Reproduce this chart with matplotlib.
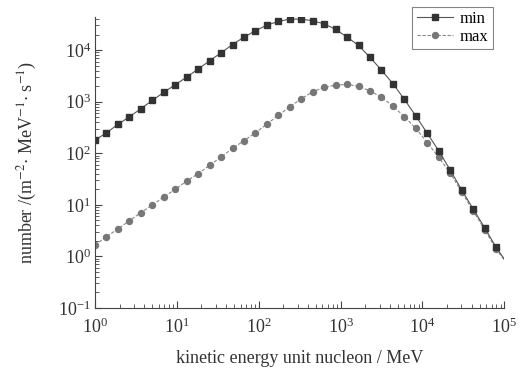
import numpy as np
import matplotlib.pyplot as plt

# === 数据 ===
# 能量点: 10^(0.14k), k=0..35, 最后补一个 1e5 只画线
energy = [10 ** (0.14 * k) for k in range(36)] + [1e5]

flux_min = [180, 249, 363, 510, 728, 1060, 1514, 2127, 2999, 4285, 6205, 8870,
            12790, 17860, 23660, 30500, 35980, 39900, 39900, 36980, 32340, 25180, 17860, 12330,
            7215, 4096, 2223, 1109, 526, 243, 111,
            47.2, 19.4, 8.3, 3.60, 1.50, 0.89]

flux_max = [1.66, 2.41, 3.40, 4.92, 7.03, 9.91, 14.2, 19.95, 28.9, 40.1, 58.3, 84.4,
            124, 175, 249, 368, 542, 796, 1138, 1556, 1892, 2098, 2163, 1980,
            1626, 1212, 822, 510, 304, 160, 83.3,
            41.3, 17.7, 7.6, 3.32, 1.39, 0.85]

plt.rcParams['font.family'] = ['Liberation Serif', 'DejaVu Serif']
plt.rcParams['mathtext.fontset'] = 'stix'

fig = plt.figure(figsize=(5.22, 3.76), dpi=100)
ax = fig.add_axes([0.182, 0.181, 0.784, 0.774])

ax.plot(energy, flux_max, color='#888888', lw=0.8, ls=(0, (3, 1.5)),
        marker='o', ms=4.3, mfc='#777777', mec='#777777',
        markevery=slice(0, 36), label='max')
ax.plot(energy, flux_min, color='#555555', lw=0.8, ls='-',
        marker='s', ms=3.8, mfc='#333333', mec='#333333',
        markevery=slice(0, 36), label='min')

ax.set_xscale('log')
ax.set_yscale('log')
ax.set_xlim(1, 1e5)
ax.set_ylim(0.1, 4.4e4)

ax.spines['top'].set_visible(False)
ax.spines['right'].set_visible(False)
for s in ('left', 'bottom'):
    ax.spines[s].set_color('#444444')
ax.tick_params(which='both', direction='in', colors='#444444', labelsize=13,
               labelcolor='#333333')
ax.tick_params(axis='x', which='major', pad=7)
ax.tick_params(axis='y', which='major', pad=3)
ax.tick_params(which='major', length=5)
ax.tick_params(which='minor', length=3)

ax.set_xlabel('kinetic energy unit nucleon / MeV', fontsize=13, color='#333333',
              labelpad=9)
ax.set_ylabel(r'number /(m$^{-2}$$\cdot$ MeV$^{-1}$$\cdot$ s$^{-1}$)',
              fontsize=13, color='#333333', labelpad=14)

h, l = ax.get_legend_handles_labels()
leg = fig.legend(h[::-1], l[::-1], loc='upper right', bbox_to_anchor=(0.944, 0.982),
                 borderaxespad=0, fontsize=12, frameon=True, fancybox=False,
                 handlelength=2.2, borderpad=0.25, labelspacing=0.1, handletextpad=0.4)
leg.get_frame().set_edgecolor('#666666')
leg.get_frame().set_linewidth(0.8)

fig.savefig('out.png', dpi=100)
